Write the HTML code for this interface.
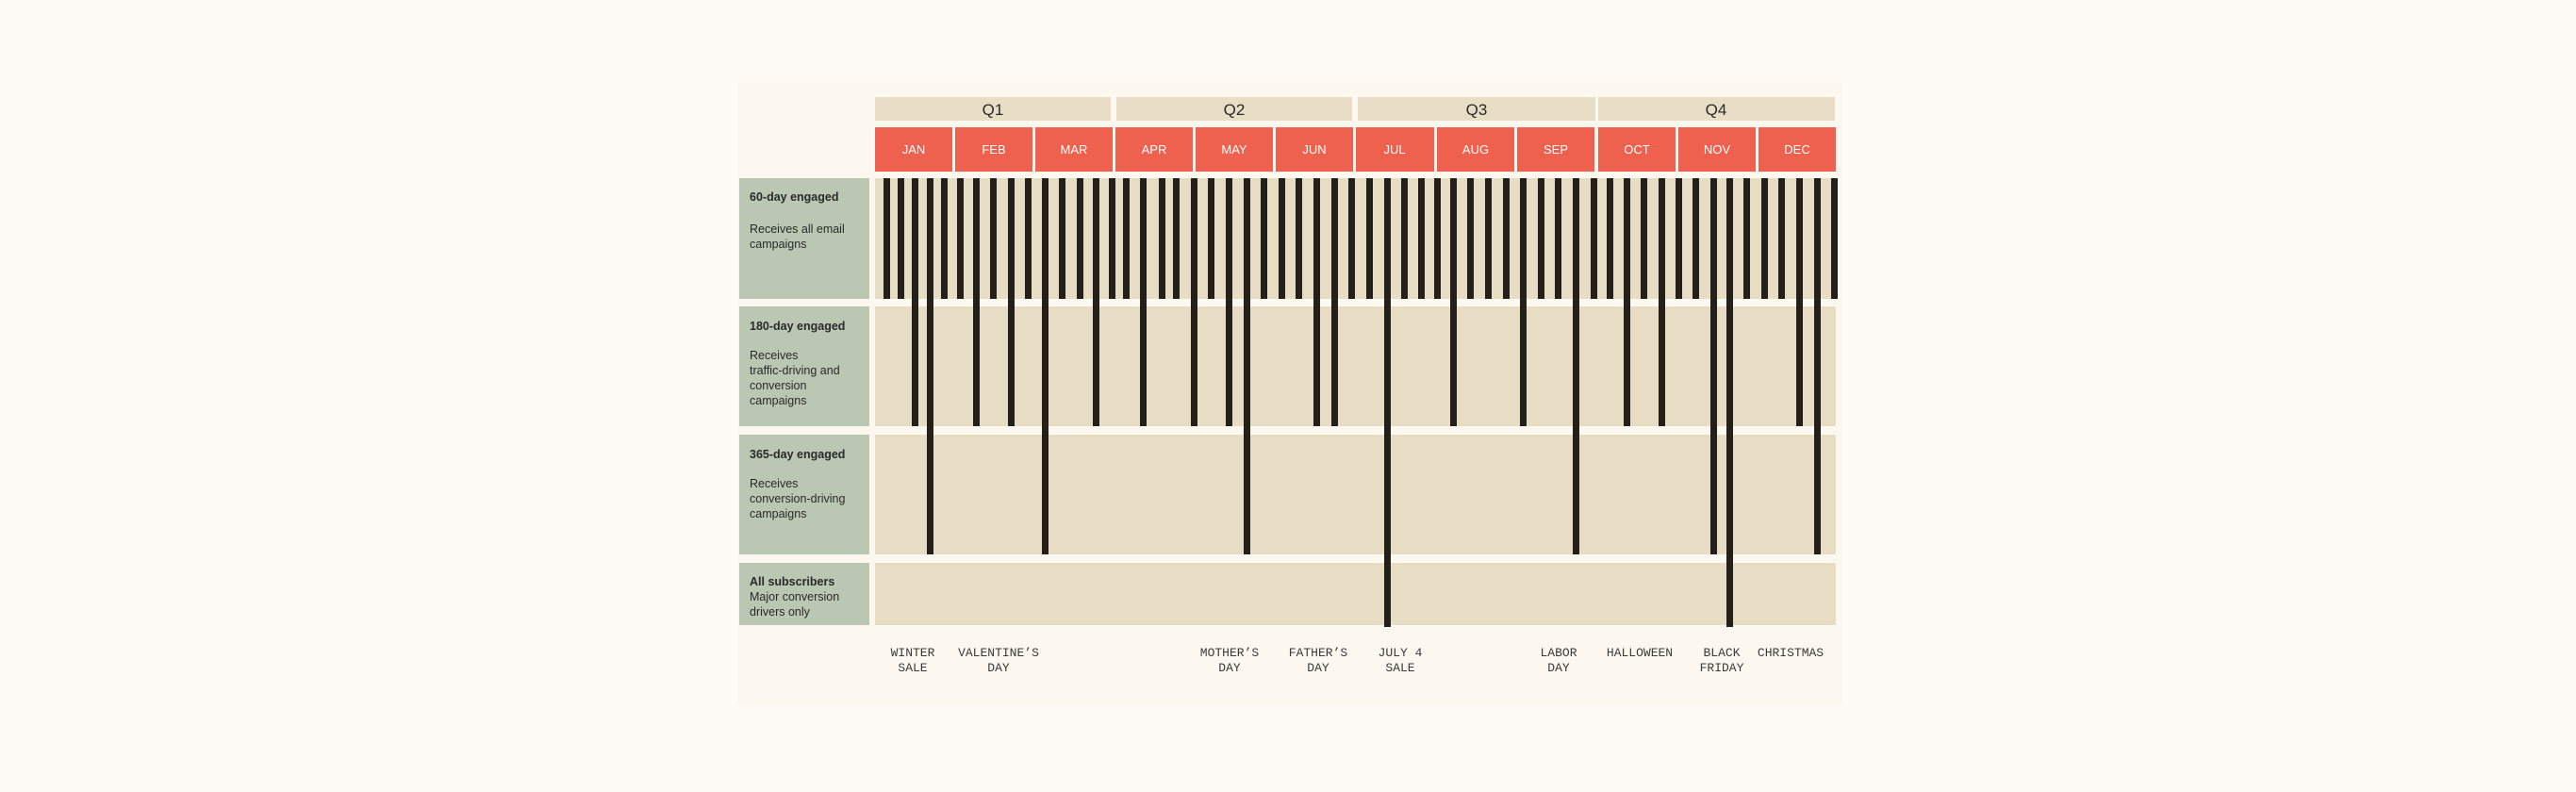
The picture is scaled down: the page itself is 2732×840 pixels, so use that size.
<!DOCTYPE html>
<html><head><meta charset="utf-8"><style>
html,body{margin:0;padding:0;background:#fefaf5;}
svg{display:block}
</style></head><body>
<svg width="2732" height="840" viewBox="0 0 2732 840" xmlns="http://www.w3.org/2000/svg">
<rect width="2732" height="840" fill="#fefaf5"/>
<rect x="782" y="88" width="1172" height="662" fill="#fcf7ef"/>
<g font-family="Liberation Sans, sans-serif" font-size="17" fill="#2a2a2a" text-anchor="middle">
<rect x="928" y="103" width="250" height="25" fill="#e8dec6"/><text x="1053" y="122">Q1</text>
<rect x="1184" y="103" width="250" height="25" fill="#e8dec6"/><text x="1309" y="122">Q2</text>
<rect x="1440" y="103" width="252" height="25" fill="#e8dec6"/><text x="1566" y="122">Q3</text>
<rect x="1695" y="103" width="251" height="25" fill="#e8dec6"/><text x="1820" y="122">Q4</text>
</g>
<g font-family="Liberation Sans, sans-serif" font-size="13" fill="#fff" text-anchor="middle">
<rect x="928" y="135" width="82" height="47" fill="#ef614f"/><text x="969" y="163">JAN</text>
<rect x="1013" y="135" width="82" height="47" fill="#ef614f"/><text x="1054" y="163">FEB</text>
<rect x="1098" y="135" width="82" height="47" fill="#ef614f"/><text x="1139" y="163">MAR</text>
<rect x="1183" y="135" width="82" height="47" fill="#ef614f"/><text x="1224" y="163">APR</text>
<rect x="1268" y="135" width="82" height="47" fill="#ef614f"/><text x="1309" y="163">MAY</text>
<rect x="1353" y="135" width="82" height="47" fill="#ef614f"/><text x="1394" y="163">JUN</text>
<rect x="1438" y="135" width="83" height="47" fill="#ef614f"/><text x="1479" y="163">JUL</text>
<rect x="1524" y="135" width="82" height="47" fill="#ef614f"/><text x="1565" y="163">AUG</text>
<rect x="1609" y="135" width="82" height="47" fill="#ef614f"/><text x="1650" y="163">SEP</text>
<rect x="1695" y="135" width="82" height="47" fill="#ef614f"/><text x="1736" y="163">OCT</text>
<rect x="1780" y="135" width="82" height="47" fill="#ef614f"/><text x="1821" y="163">NOV</text>
<rect x="1865" y="135" width="82" height="47" fill="#ef614f"/><text x="1906" y="163">DEC</text>
</g>
<g fill="#e7dcc4">
<rect x="928" y="189" width="1019" height="128"/>
<rect x="928" y="325" width="1019" height="127"/>
<rect x="928" y="461" width="1019" height="127"/>
<rect x="928" y="597" width="1019" height="66"/>
</g>
<g fill="#b9c7b3">
<rect x="784" y="189" width="138" height="128"/>
<rect x="784" y="325" width="138" height="127"/>
<rect x="784" y="461" width="138" height="127"/>
<rect x="784" y="597" width="138" height="66"/>
</g>
<g font-family="Liberation Sans, sans-serif" font-size="12.5" fill="#2a2a2a">
<text x="795" y="213" font-weight="bold">60-day engaged</text>
<text x="795" y="247">Receives all email</text><text x="795" y="263">campaigns</text>
<text x="795" y="350" font-weight="bold">180-day engaged</text>
<text x="795" y="381">Receives</text><text x="795" y="397">traffic-driving and</text><text x="795" y="413">conversion</text><text x="795" y="429">campaigns</text>
<text x="795" y="486" font-weight="bold">365-day engaged</text>
<text x="795" y="517">Receives</text><text x="795" y="533">conversion-driving</text><text x="795" y="549">campaigns</text>
<text x="795" y="621" font-weight="bold">All subscribers</text>
<text x="795" y="637">Major conversion</text><text x="795" y="653">drivers only</text>
</g>
<g fill="#231f1b">
<!-- short bars (row1) -->
<rect x="937" y="189" width="7" height="128"/><rect x="952" y="189" width="7" height="128"/>
<rect x="998" y="189" width="7" height="128"/><rect x="1015" y="189" width="7" height="128"/>
<rect x="1050" y="189" width="7" height="128"/><rect x="1087" y="189" width="7" height="128"/>
<rect x="1123" y="189" width="7" height="128"/><rect x="1142" y="189" width="7" height="128"/>
<rect x="1176" y="189" width="7" height="128"/><rect x="1191" y="189" width="7" height="128"/>
<rect x="1229" y="189" width="7" height="128"/><rect x="1244" y="189" width="7" height="128"/>
<rect x="1281" y="189" width="7" height="128"/><rect x="1337" y="189" width="7" height="128"/>
<rect x="1356" y="189" width="7" height="128"/><rect x="1374" y="189" width="7" height="128"/>
<rect x="1430" y="189" width="7" height="128"/><rect x="1449" y="189" width="7" height="128"/>
<rect x="1486" y="189" width="7" height="128"/><rect x="1504" y="189" width="7" height="128"/>
<rect x="1521" y="189" width="7" height="128"/><rect x="1556" y="189" width="7" height="128"/>
<rect x="1575" y="189" width="7" height="128"/><rect x="1594" y="189" width="7" height="128"/>
<rect x="1631" y="189" width="7" height="128"/><rect x="1649" y="189" width="7" height="128"/>
<rect x="1687" y="189" width="7" height="128"/><rect x="1704" y="189" width="7" height="128"/>
<rect x="1740" y="189" width="7" height="128"/><rect x="1777" y="189" width="7" height="128"/>
<rect x="1795" y="189" width="7" height="128"/><rect x="1849" y="189" width="7" height="128"/>
<rect x="1868" y="189" width="7" height="128"/><rect x="1886" y="189" width="7" height="128"/>
<rect x="1942" y="189" width="7" height="128"/>
<!-- row2 -->
<rect x="967" y="189" width="7" height="263"/><rect x="1032" y="189" width="7" height="263"/>
<rect x="1069" y="189" width="7" height="263"/><rect x="1159" y="189" width="7" height="263"/>
<rect x="1209" y="189" width="7" height="263"/><rect x="1263" y="189" width="7" height="263"/>
<rect x="1300" y="189" width="7" height="263"/><rect x="1393" y="189" width="7" height="263"/>
<rect x="1412" y="189" width="7" height="263"/><rect x="1538" y="189" width="7" height="263"/>
<rect x="1612" y="189" width="7" height="263"/><rect x="1722" y="189" width="7" height="263"/>
<rect x="1759" y="189" width="7" height="263"/><rect x="1905" y="189" width="7" height="263"/>
<!-- row3 -->
<rect x="983" y="189" width="7" height="399"/><rect x="1105" y="189" width="7" height="399"/>
<rect x="1319" y="189" width="7" height="399"/><rect x="1668" y="189" width="7" height="399"/>
<rect x="1814" y="189" width="7" height="399"/><rect x="1924" y="189" width="7" height="399"/>
<!-- row4 -->
<rect x="1468" y="189" width="7" height="476"/><rect x="1831" y="189" width="7" height="476"/>
</g>
<g font-family="Liberation Mono, monospace" font-size="13" fill="#3a3a3a" text-anchor="middle">
<text x="968" y="696">WINTER</text><text x="968" y="712">SALE</text>
<text x="1059" y="696">VALENTINE’S</text><text x="1059" y="712">DAY</text>
<text x="1304" y="696">MOTHER’S</text><text x="1304" y="712">DAY</text>
<text x="1398" y="696">FATHER’S</text><text x="1398" y="712">DAY</text>
<text x="1485" y="696">JULY 4</text><text x="1485" y="712">SALE</text>
<text x="1653" y="696">LABOR</text><text x="1653" y="712">DAY</text>
<text x="1739" y="696">HALLOWEEN</text>
<text x="1826" y="696">BLACK</text><text x="1826" y="712">FRIDAY</text>
<text x="1899" y="696">CHRISTMAS</text>
</g>
</svg>
</body></html>
